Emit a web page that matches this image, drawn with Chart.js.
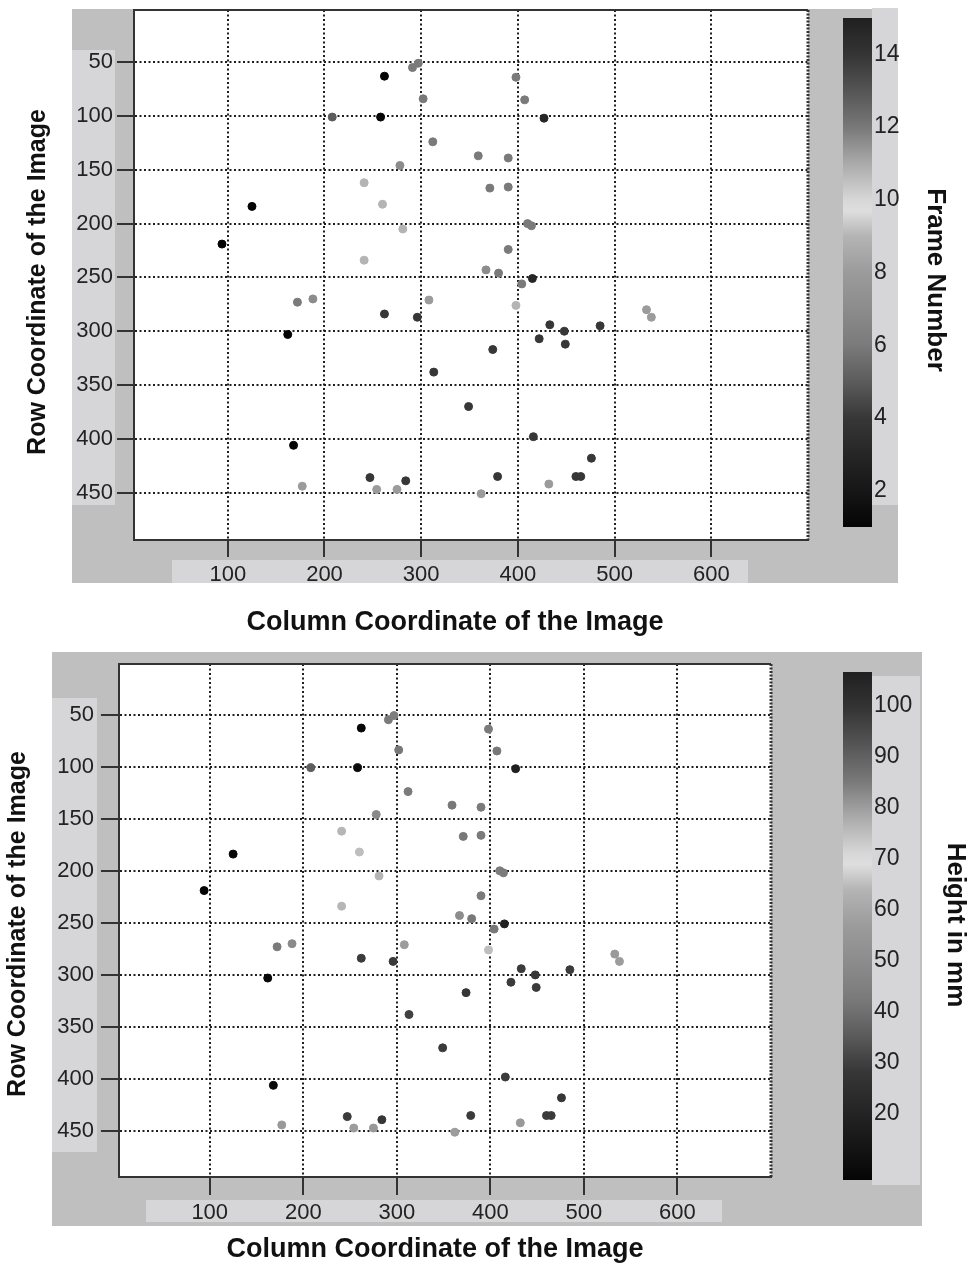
<!DOCTYPE html>
<html>
<head>
<meta charset="utf-8">
<script src="https://cdn.jsdelivr.net/npm/chart.js@4.4.1/dist/chart.umd.min.js"></script>
<style>
  html, body { margin: 0; padding: 0; background: #fff; overflow: hidden; }
  #page { position: relative; width: 972px; height: 1267px; }
  .panel { position: absolute; background: #bfbfbf; }
  .box { position: absolute; background: #d6d6d8; }
  canvas { position: absolute; }
</style>
</head>
<body>
<div id="page">
  <!-- top figure backdrop -->
  <div class="panel" style="left:72px;top:9px;width:826px;height:574px"></div>
  <div class="box" style="left:72px;top:50px;width:43px;height:455px"></div>
  <div class="box" style="left:172px;top:560px;width:576px;height:23px"></div>
  <div class="box" style="left:872px;top:8px;width:26px;height:497px"></div>
  <!-- bottom figure backdrop -->
  <div class="panel" style="left:52px;top:652px;width:870px;height:574px"></div>
  <div class="box" style="left:52px;top:698px;width:45px;height:454px"></div>
  <div class="box" style="left:146px;top:1200px;width:576px;height:22px"></div>
  <div class="box" style="left:872px;top:676px;width:48px;height:509px"></div>

  <canvas id="scatterFrame" width="840" height="640" style="left:0;top:0"></canvas>
  <canvas id="barFrame" width="152" height="600" style="left:820px;top:0"></canvas>
  <canvas id="scatterHeight" width="840" height="627" style="left:0;top:640px"></canvas>
  <canvas id="barHeight" width="152" height="627" style="left:820px;top:640px"></canvas>
</div>

<script>
// ---- data ----
const COL = [262, 291, 297, 302, 208, 258, 312, 359, 390, 278,
             241, 371, 390, 125, 260, 281, 94, 241, 390, 367,
             380, 398, 407, 427, 410, 414, 415, 404, 308, 172,
             188, 262, 296, 162, 374, 313, 349, 168, 247, 284,
             177, 254, 275, 379, 362, 398, 433, 448, 422, 449,
             485, 533, 538, 416, 476, 460, 465, 432];
const ROW = [63, 55, 51, 84, 101, 101, 124, 137, 139, 146,
             162, 167, 166, 184, 182, 205, 219, 234, 224, 243,
             246, 64, 85, 102, 200, 202, 251, 256, 271, 273,
             270, 284, 287, 303, 317, 338, 370, 406, 436, 439,
             444, 447, 447, 435, 451, 276, 294, 300, 307, 312,
             295, 280, 287, 398, 418, 435, 435, 442];
const FRAME = [1, 6, 6, 6, 5, 1, 6, 6, 6, 7,
               9, 6, 6, 1, 9, 9, 1, 9, 6, 7,
               6, 6, 6, 3, 6, 6, 3, 6, 8, 6,
               7, 4, 4, 1, 4, 4, 4, 1, 4, 4,
               8, 8, 8, 4, 8, 9, 4, 4, 4, 4,
               4, 8, 8, 4, 4, 4, 4, 8];
const HEIGHT = [8, 43, 44, 42, 36, 9, 43, 42, 43, 49,
                64, 42, 43, 8, 65, 64, 7, 64, 43, 50,
                42, 43, 42, 18, 44, 43, 19, 42, 57, 43,
                49, 29, 29, 8, 28, 30, 29, 9, 29, 28,
                56, 57, 56, 29, 57, 65, 29, 28, 29, 29,
                29, 56, 57, 29, 28, 29, 29, 56];

const X_TICKS = [100, 200, 300, 400, 500, 600];
const Y_TICKS = [50, 100, 150, 200, 250, 300, 350, 400, 450];
const FRAME_TICKS = [2, 4, 6, 8, 10, 12, 14];
const HEIGHT_TICKS = [20, 30, 40, 50, 60, 70, 80, 90, 100];

// grayscale colormap (jet printed in gray)
const CMAP_POS  = [0, 0.071, 0.143, 0.214, 0.286, 0.357, 0.429, 0.5, 0.571, 0.621, 0.643, 0.714, 0.786, 0.857, 0.929, 1];
const CMAP_GRAY = [5, 22, 38, 55, 92, 122, 140, 155, 180, 222, 215, 170, 120, 85, 52, 32];

const FONT = 'Arial, "Liberation Sans", sans-serif';
Chart.defaults.font.family = FONT;
Chart.defaults.color = '#222';

function grayAt(t) {
  t = Math.max(0, Math.min(1, t));
  let i = 1;
  while (i < CMAP_POS.length - 1 && CMAP_POS[i] < t) i++;
  const f = (t - CMAP_POS[i - 1]) / (CMAP_POS[i] - CMAP_POS[i - 1]);
  const g = Math.round(CMAP_GRAY[i - 1] + f * (CMAP_GRAY[i] - CMAP_GRAY[i - 1]));
  return `rgb(${g},${g},${g})`;
}

// white plot area, top/right frame, free-standing titles
const panelPlugin = {
  id: 'panel',
  beforeDraw(chart, args, opts) {
    if (!opts.plotBg) return;
    const { ctx, chartArea: a } = chart;
    ctx.save();
    ctx.fillStyle = opts.plotBg;
    ctx.fillRect(a.left, a.top, a.right - a.left, a.bottom - a.top);
    ctx.restore();
  },
  afterDraw(chart, args, opts) {
    const { ctx, chartArea: a } = chart;
    if (opts.frame) {
      ctx.save();
      ctx.strokeStyle = '#333';
      ctx.lineWidth = 2;
      ctx.beginPath(); ctx.moveTo(a.left, a.top); ctx.lineTo(a.right, a.top); ctx.stroke();
      ctx.lineWidth = 3;
      ctx.setLineDash([2, 1.5]);
      ctx.beginPath(); ctx.moveTo(a.right, a.top); ctx.lineTo(a.right, a.bottom); ctx.stroke();
      ctx.restore();
    }
    (opts.titles || []).forEach(t => {
      ctx.save();
      ctx.translate(t.x, t.y);
      ctx.rotate(t.rot || 0);
      ctx.font = `bold ${t.size || 26}px ${FONT}`;
      ctx.fillStyle = '#111';
      ctx.textAlign = 'center';
      ctx.textBaseline = 'middle';
      ctx.fillText(t.text, 0, 0);
      ctx.restore();
    });
  },
};

// --------------------------------------------------------
// Scatter of detections, coloured through the colormap
// --------------------------------------------------------
function renderScatter(canvasId, values, vmin, vmax, g) {
  const colors = values.map(v => grayAt((v - vmin) / (vmax - vmin)));
  const axisGrid = {
    color: '#1e1e1e',
    lineWidth: 2,
    tickLength: g.tickLen,
    tickColor: '#333',
    tickWidth: 2,
  };
  const border = { color: '#333', width: 2, dash: [2, 2.5] };
  return new Chart(document.getElementById(canvasId), {
    type: 'scatter',
    data: {
      datasets: [{
        data: COL.map((x, i) => ({ x, y: ROW[i] })),
        pointBackgroundColor: colors,
        pointBorderColor: colors,
        pointBorderWidth: 1,
        pointRadius: 4,
      }],
    },
    options: {
      responsive: false,
      animation: false,
      layout: { padding: g.pad },
      plugins: {
        legend: { display: false },
        tooltip: { enabled: false },
        panel: { plotBg: '#fff', frame: true, titles: g.titles },
      },
      scales: {
        x: {
          type: 'linear', min: 3, max: 700,
          afterBuildTicks: s => { s.ticks = X_TICKS.map(value => ({ value })); },
          afterFit: s => { s.height = g.xAxisH; s.paddingLeft = 0; s.paddingRight = 0; },
          grid: axisGrid,
          border,
          ticks: { padding: g.xPad, font: { size: 22 }, color: '#222' },
        },
        y: {
          type: 'linear', min: 1.5, max: 494, reverse: true,
          afterBuildTicks: s => { s.ticks = Y_TICKS.map(value => ({ value })); },
          afterFit: s => { s.width = g.yAxisW; s.paddingTop = 0; s.paddingBottom = 0; },
          grid: axisGrid,
          border,
          ticks: { padding: g.yPad, font: { size: 22 }, color: '#222' },
        },
      },
    },
    plugins: [panelPlugin],
  });
}

// --------------------------------------------------------
// Colour bar as a single floating bar with a gradient
// --------------------------------------------------------
function renderColorbar(canvasId, vmin, vmax, tickVals, g) {
  return new Chart(document.getElementById(canvasId), {
    type: 'bar',
    data: {
      labels: [''],
      datasets: [{
        data: [[vmin, vmax]],
        backgroundColor: c => {
          const { ctx, chartArea } = c.chart;
          if (!chartArea) return '#888';
          const grad = ctx.createLinearGradient(0, chartArea.bottom, 0, chartArea.top);
          CMAP_POS.forEach(p => grad.addColorStop(p, grayAt(p)));
          return grad;
        },
        borderWidth: 0,
        borderSkipped: false,
        barPercentage: 1,
        categoryPercentage: 1,
      }],
    },
    options: {
      responsive: false,
      animation: false,
      layout: { padding: g.pad },
      plugins: {
        legend: { display: false },
        tooltip: { enabled: false },
        panel: { titles: g.titles },
      },
      scales: {
        x: { display: false },
        y: {
          position: 'right', min: vmin, max: vmax,
          afterBuildTicks: s => { s.ticks = tickVals.map(value => ({ value })); },
          afterFit: s => { s.width = g.axisW; s.paddingTop = 0; s.paddingBottom = 0; },
          grid: { drawTicks: false, color: '#222', lineWidth: 1 },
          border: { display: false, dash: [4, 21] },
          ticks: { padding: 2, font: { size: 23 }, color: '#222' },
        },
      },
    },
    plugins: [panelPlugin],
  });
}

renderScatter('scatterFrame', FRAME, 1, 15, {
  pad: { left: 0, top: 10, right: 32, bottom: 0 },
  yAxisW: 134, xAxisH: 100, tickLen: 17, xPad: 5, yPad: 4,
  titles: [
    { text: 'Row Coordinate of the Image', x: 38, y: 282, rot: -Math.PI / 2, size: 25 },
    { text: 'Column Coordinate of the Image', x: 455, y: 623, size: 27 },
  ],
});
renderColorbar('barFrame', 1, 15, FRAME_TICKS, {
  pad: { left: 23, top: 18, right: 0, bottom: 73 }, axisW: 100,
  titles: [{ text: 'Frame Number', x: 115, y: 280, rot: Math.PI / 2 }],
});

renderScatter('scatterHeight', HEIGHT, 7, 106.5, {
  pad: { left: 0, top: 24, right: 69, bottom: 0 },
  yAxisW: 119, xAxisH: 90, tickLen: 18, xPad: 5, yPad: 7,
  titles: [
    { text: 'Row Coordinate of the Image', x: 18, y: 284, rot: -Math.PI / 2, size: 25 },
    { text: 'Column Coordinate of the Image', x: 435, y: 610, size: 27 },
  ],
});
renderColorbar('barHeight', 7, 106.5, HEIGHT_TICKS, {
  pad: { left: 23, top: 32, right: 0, bottom: 87 }, axisW: 100,
  titles: [{ text: 'Height in mm', x: 135, y: 285, rot: Math.PI / 2 }],
});
</script>
</body>
</html>
